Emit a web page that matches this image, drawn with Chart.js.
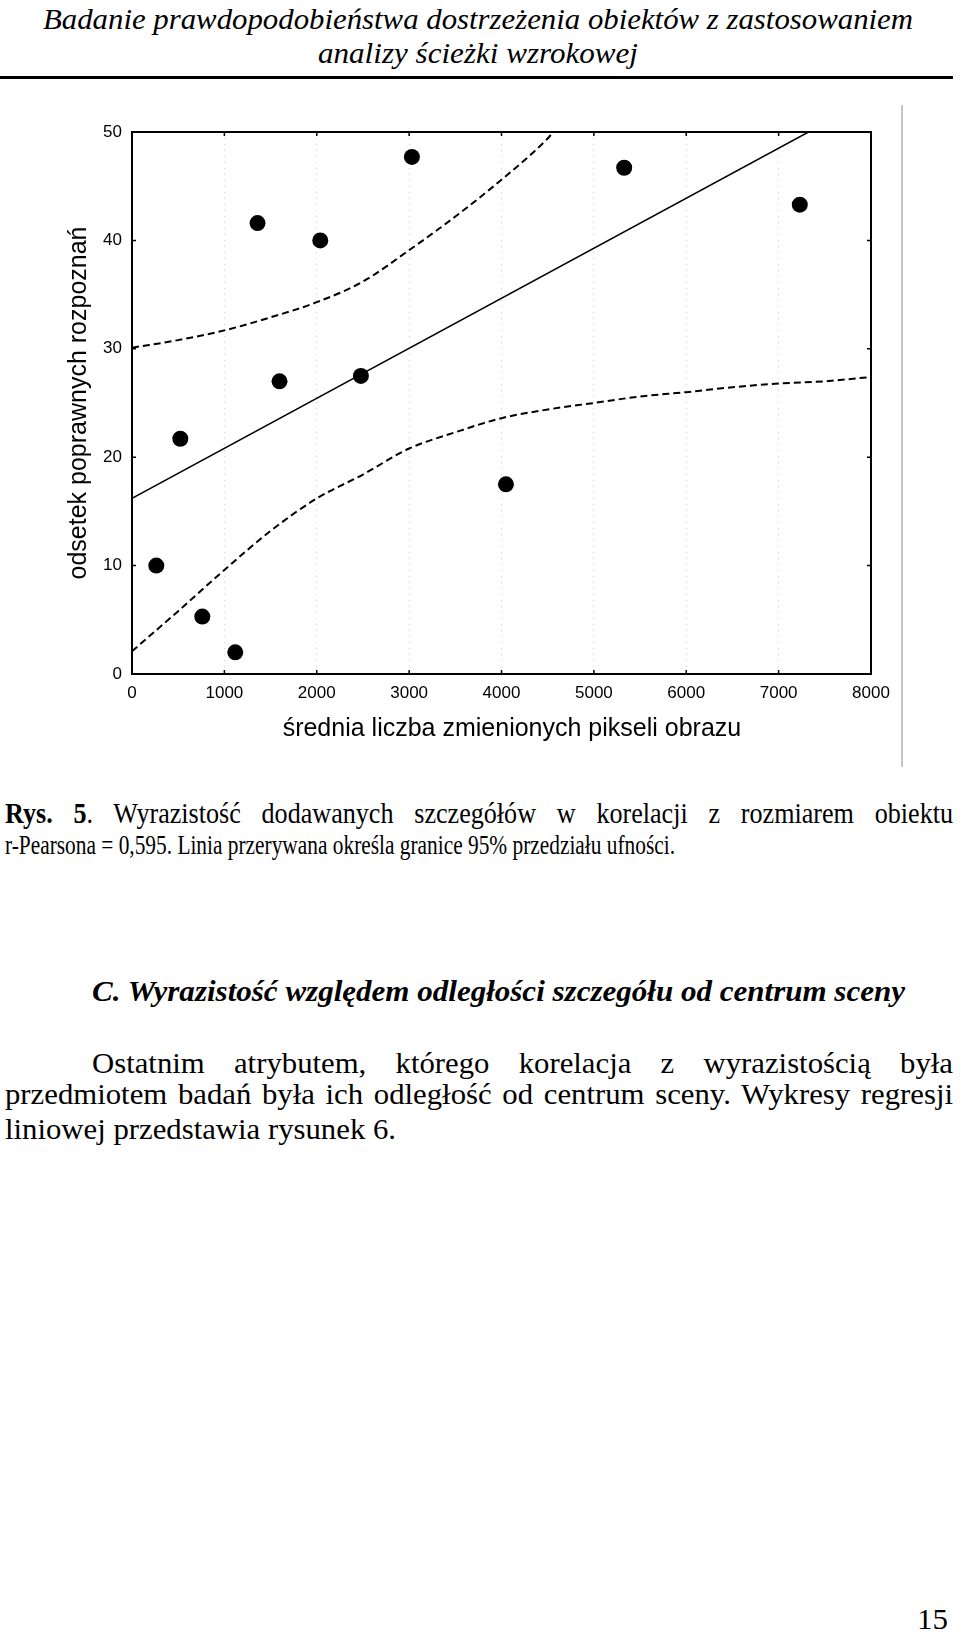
<!DOCTYPE html>
<html>
<head>
<meta charset="utf-8">
<script src="https://cdn.jsdelivr.net/npm/chart.js@4"></script>
<style>
  body { margin: 0; width: 960px; height: 1634px; background: #fff; position: relative; overflow: hidden; }
  .ln { position: absolute; white-space: nowrap; line-height: 1; transform: translateY(-50%); transform-origin: 0 50%; font-family: 'Liberation Serif', 'Times New Roman', serif; color: #000; }
  .just { white-space: normal; text-align: justify; text-align-last: justify; }
  .it { font-style: italic; }
  #rule { position: absolute; left: 0; top: 76px; width: 953px; height: 3px; background: #000; }
  #edge { position: absolute; left: 901px; top: 105px; width: 2px; height: 662px; background: #c4c4c4; }
  #wrap { position: absolute; left: 0; top: 100px; width: 960px; height: 680px; }
</style>
</head>
<body>
<div class="ln it" id="h1" style="left:43px;top:19px;font-size:30px"><span>Badanie prawdopodobieństwa dostrzeżenia obiektów z zastosowaniem</span></div>
<div class="ln it" id="h2" style="left:318px;top:53px;font-size:30px"><span>analizy ścieżki wzrokowej</span></div>
<div id="rule"></div>

<div id="wrap"><canvas id="chart"></canvas></div>
<div id="edge"></div>

<div class="ln just" id="c1" style="left:5px;top:813px;width:948px;font-size:29px"><b>Rys. 5</b>. Wyrazistość dodawanych szczegółów w korelacji z rozmiarem obiektu</div>
<div class="ln" id="c2" style="left:5px;top:845px;font-size:26.5px"><span>r-Pearsona = 0,595. Linia przerywana określa granice 95% przedziału ufności.</span></div>

<div class="ln it" id="hc" style="left:92px;top:991px;font-size:30px;font-weight:bold"><span>C. Wyrazistość względem odległości szczegółu od centrum sceny</span></div>

<div class="ln just" id="p1" style="left:92px;top:1063px;width:861px;font-size:30px">Ostatnim atrybutem, którego korelacja z wyrazistością była</div>
<div class="ln just" id="p2" style="left:5px;top:1094px;width:948px;font-size:30px">przedmiotem badań była ich odległość od centrum sceny. Wykresy regresji</div>
<div class="ln" id="p3" style="left:5px;top:1129px;font-size:30px"><span>liniowej przedstawia rysunek 6.</span></div>

<div class="ln" id="pg" style="left:917px;top:1619px;font-size:30px"><span>15</span></div>

<script>
// tick labels
const xTicks = [0, 1000, 2000, 3000, 4000, 5000, 6000, 7000, 8000];
const yTicks = [0, 10, 20, 30, 40, 50];

// measured points
const pointX = [263, 523, 761, 1118, 1359, 1597, 2038, 2478, 3030, 4048, 5328, 7229];
const pointY = [10.0, 21.7, 5.3, 2.0, 41.6, 27.0, 40.0, 27.5, 47.7, 17.5, 46.7, 43.3];

// regression line
const fitX = [0, 7323];
const fitY = [16.2, 50];

// 95% confidence limits
const upperX = [0, 500, 1000, 1500, 2000, 2500, 3000, 3500, 4000, 4500, 4560];
const upperY = [30.1, 30.8, 31.7, 32.9, 34.3, 36.2, 39.1, 42.2, 45.6, 49.4, 50];
const lowerX = [0, 500, 1000, 1500, 2000, 2500, 3000, 3500, 4000, 4500, 5000, 5500, 6000, 6500, 7000, 7500, 8000];
const lowerY = [2.1, 5.8, 9.6, 13.2, 16.2, 18.4, 20.8, 22.3, 23.6, 24.4, 25.0, 25.6, 26.0, 26.45, 26.8, 27.0, 27.4];

const toXY = (xs, ys) => xs.map((x, i) => ({x: x, y: ys[i]}));

// squeeze a line horizontally to the reference width (font is condensed there)
function squeeze(id, w) {
  const el = document.getElementById(id);
  const s = w / el.querySelector('span').getBoundingClientRect().width;
  el.style.transform = 'translateY(-50%) scaleX(' + s + ')';
  return s;
}
function squeezeJust(id, w, s) {
  const el = document.getElementById(id);
  el.style.width = (w / s) + 'px';
  el.style.transform = 'translateY(-50%) scaleX(' + s + ')';
}
squeeze('h1', 870);
squeeze('h2', 320);
squeeze('c2', 670);
squeezeJust('c1', 948, 0.9);
squeeze('hc', 813);
const bodyS = squeeze('p3', 391);
squeezeJust('p1', 861, bodyS);
squeezeJust('p2', 948, bodyS);
squeeze('pg', 31);

const framePlugin = {
  id: 'frame',
  afterDatasetsDraw(chart) {
    const ctx = chart.ctx;
    const a = chart.chartArea;
    const xs = chart.scales.x, ys = chart.scales.y;
    ctx.save();
    ctx.strokeStyle = '#000';
    ctx.lineWidth = 2;
    ctx.strokeRect(a.left, a.top, a.right - a.left, a.bottom - a.top);
    ctx.lineWidth = 1.5;
    ctx.beginPath();
    xTicks.forEach(v => {
      const px = xs.getPixelForValue(v);
      ctx.moveTo(px, a.bottom); ctx.lineTo(px, a.bottom - 4);
      ctx.moveTo(px, a.top); ctx.lineTo(px, a.top + 4);
    });
    yTicks.forEach(v => {
      const py = ys.getPixelForValue(v);
      ctx.moveTo(a.left, py); ctx.lineTo(a.left + 4, py);
      ctx.moveTo(a.right, py); ctx.lineTo(a.right - 4, py);
    });
    ctx.stroke();
    ctx.restore();
  }
};

const ctx = document.getElementById('chart').getContext('2d');
new Chart(ctx, {
  type: 'scatter',
  data: {
    datasets: [{
      label: 'punkty',
      data: toXY(pointX, pointY),
      pointRadius: 8,
      pointHoverRadius: 8,
      backgroundColor: '#000',
      borderWidth: 0
    }, {
      label: 'regresja',
      data: toXY(fitX, fitY),
      showLine: true,
      pointRadius: 0,
      borderColor: '#000',
      borderWidth: 1.5
    }, {
      label: 'górna granica',
      data: toXY(upperX, upperY),
      showLine: true,
      pointRadius: 0,
      borderColor: '#000',
      borderWidth: 2,
      borderDash: [7, 4],
      cubicInterpolationMode: 'monotone'
    }, {
      label: 'dolna granica',
      data: toXY(lowerX, lowerY),
      showLine: true,
      pointRadius: 0,
      borderColor: '#000',
      borderWidth: 2,
      borderDash: [7, 4],
      cubicInterpolationMode: 'monotone'
    }]
  },
  options: {
    responsive: true,
    maintainAspectRatio: false,
    animation: false,
    layout: { padding: { left: 0, top: 32, right: 89, bottom: 0 } },
    plugins: { legend: { display: false }, tooltip: { enabled: false } },
    scales: {
      x: {
        type: 'linear',
        min: 0, max: 8000,
        afterBuildTicks: s => { s.ticks = xTicks.map(v => ({value: v})); },
        afterFit: s => { s.height = 106; },
        ticks: { color: '#000', padding: 9, maxRotation: 0, callback: v => String(v), font: { family: 'Liberation Sans', size: 17 } },
        grid: {
          drawTicks: false,
          color: c => (c.tick && c.tick.value > 0 && c.tick.value < 8000) ? '#cfcfcf' : 'rgba(0,0,0,0)',
          lineWidth: 1
        },
        border: { display: false, dash: [1, 5] },
        title: {
          display: true,
          text: '   średnia liczba zmienionych pikseli obrazu',
          color: '#000',
          font: { family: 'Liberation Sans', size: 25 },
          padding: { top: 0, bottom: 36 }
        }
      },
      y: {
        type: 'linear',
        min: 0, max: 50,
        afterBuildTicks: s => { s.ticks = yTicks.map(v => ({value: v})); },
        afterFit: s => { s.width = 132; },
        ticks: { color: '#000', padding: 10, callback: v => String(v), font: { family: 'Liberation Sans', size: 17 } },
        grid: { display: false, drawTicks: false },
        border: { display: false },
        title: {
          display: true,
          text: 'odsetek poprawnych rozpoznań',
          color: '#000',
          font: { family: 'Liberation Sans', size: 25 },
          padding: { top: 64, bottom: 0 }
        }
      }
    }
  },
  plugins: [framePlugin]
});
</script>
</body>
</html>
